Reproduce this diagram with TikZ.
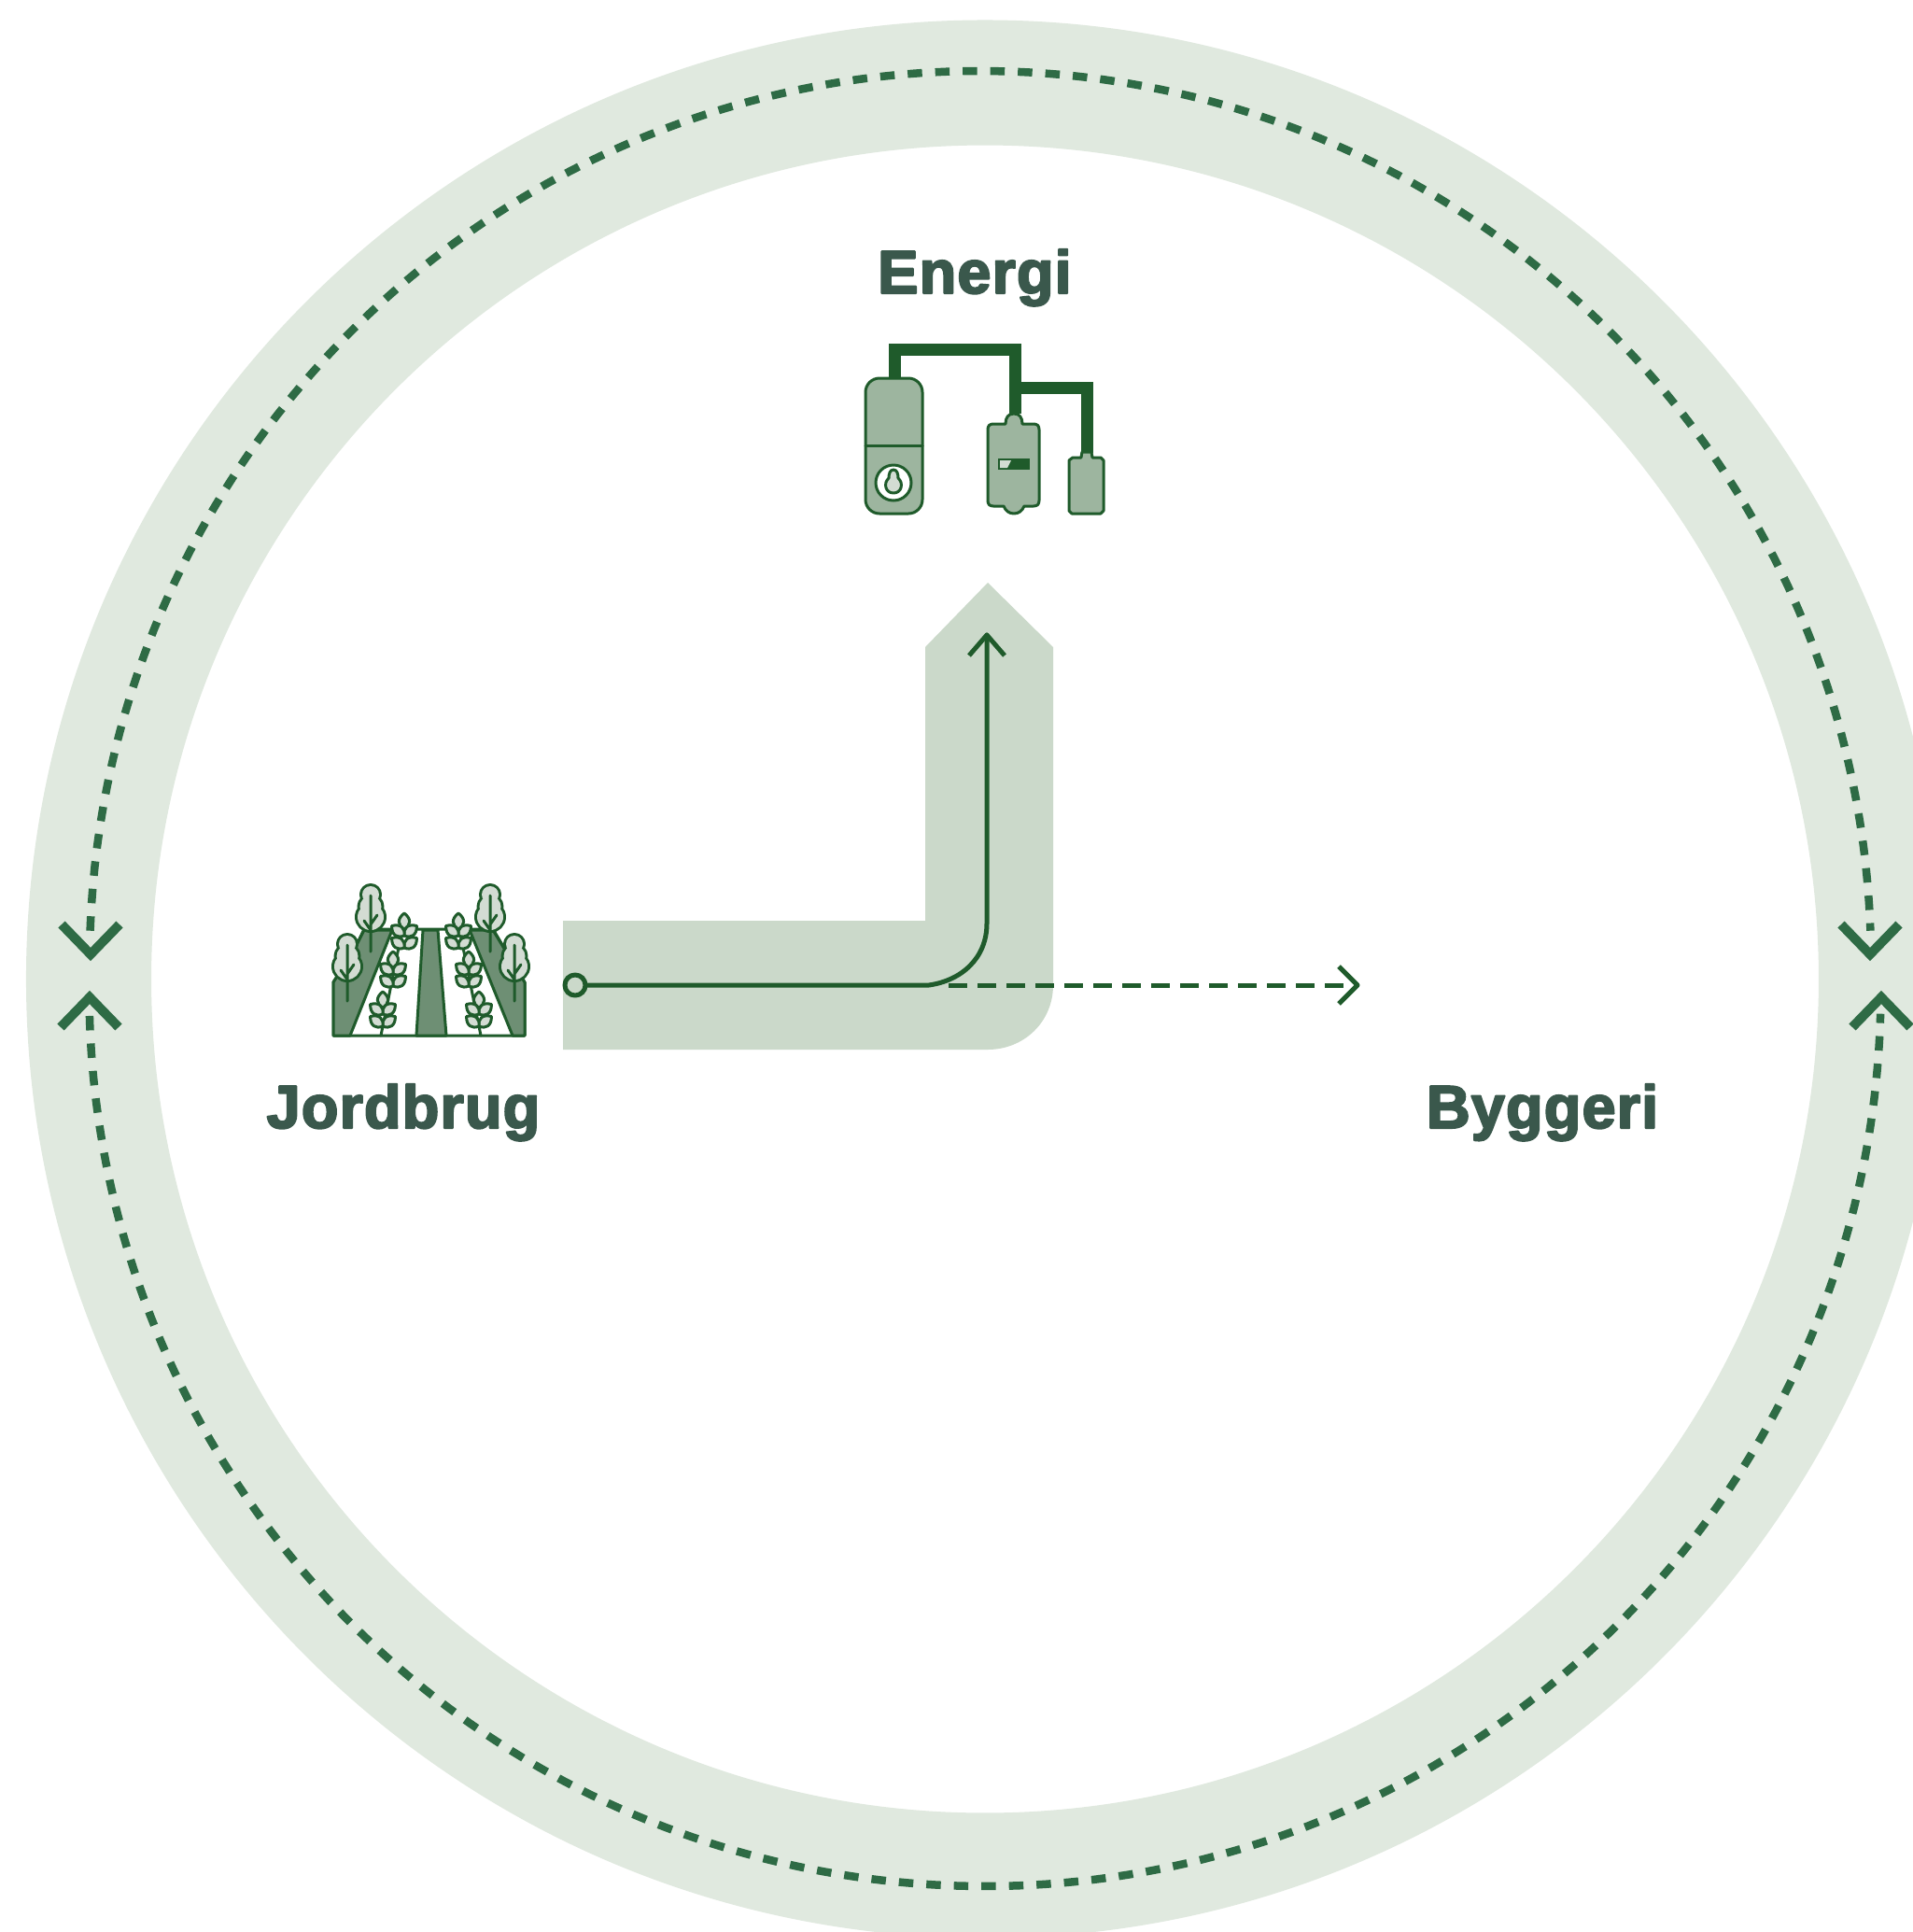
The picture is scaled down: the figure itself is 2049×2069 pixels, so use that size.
\documentclass[tikz,border=0pt]{standalone}
\usepackage{fontspec}
\setmainfont{Liberation Sans}[BoldFeatures={FakeBold=3.2,LetterSpace=1.6}]
\usetikzlibrary{calc}
\definecolor{ringgreen}{HTML}{E0E9DF}
\definecolor{bandgreen}{HTML}{CBD9CA}
\definecolor{darkgreen}{HTML}{1F5B2B}
\definecolor{dashgreen}{HTML}{2E6B45}
\definecolor{textgreen}{HTML}{3A584C}
\definecolor{iconfill}{HTML}{9DB59F}
\definecolor{fielddark}{HTML}{6E8F74}
\definecolor{leaflight}{HTML}{D3DCD3}
\tikzset{
  label/.style={font=\bfseries\fontsize{18.5}{20}\selectfont,text=textgreen,inner sep=0pt,anchor=base},
  ringdash/.style={color=dashgreen,line width=.085cm,dash pattern=on .155cm off .14cm,samples=300,line cap=butt},
  ringhead/.style={color=dashgreen,line width=.1cm,line cap=butt,line join=miter},
  flow/.style={color=darkgreen,line width=.05cm},
  icon/.style={draw=darkgreen,line width=.03cm,fill=iconfill},
  pipe/.style={draw=darkgreen,line width=.13cm,line cap=butt,line join=miter},
  treeicon/.pic={
    \foreach \ly/\lr in {9/9,22/11.5,33/14} \draw[darkgreen,line width=.06cm,fill=darkgreen] (0,\ly) circle (\lr);
    \foreach \ly/\lr in {9/9,22/11.5,33/14} \fill[leaflight] (0,\ly) circle (\lr);
    \draw[darkgreen,line width=.03cm] (0,10)--(0,70) (0,47)--(-7,37) (0,41)--(7,31);
  },
  leafshape/.pic={
    \draw[icon,fill=leaflight] (0,0) .. controls (7,-4) and (8,-11) .. (0,-17) .. controls (-8,-11) and (-7,-4) .. (0,0);
  },
  wheat/.pic={
    \pic at (0,0) {leafshape};
    \pic[rotate=-52] at (0,7) {leafshape};
    \pic[rotate=52] at (0,7) {leafshape};
    \pic[rotate=-52] at (0,20) {leafshape};
    \pic[rotate=52] at (0,20) {leafshape};
  },
}
\begin{document}
\begin{tikzpicture}[line cap=round,line join=round,>=stealth,x=.01cm,y=-.01cm]
\clip (0,0) rectangle (2049,2069);
\fill[white] (0,0) rectangle (2049,2069);
% ring
\draw[ringgreen,line width=1.34cm] (1055,1048.5) circle (960);
\draw[ringdash] plot[domain=178:2] ({1050+954*cos(\x)},{1030-954*sin(\x)});
\draw[ringdash] plot[domain=178.36:1.5] ({1055+959.5*cos(\x)},{1060.5+959.5*sin(\x)});
\coordinate (topleft) at (97,1022);
\coordinate (botleft) at (96,1068);
\coordinate (topright) at (2003,1022);
\coordinate (botright) at (2015,1068);
\draw[ringhead] ($(topleft)+(-31,-32)$)--(topleft)--($(topleft)+(31,-32)$);
\draw[ringhead] ($(botleft)+(-31,32)$)--(botleft)--($(botleft)+(31,32)$);
\draw[ringhead] ($(topright)+(-31,-32)$)--(topright)--($(topright)+(31,-32)$);
\draw[ringhead] ($(botright)+(-31,32)$)--(botright)--($(botright)+(31,32)$);
% band
\fill[bandgreen] (603,986)--(991,986)--(991,693)--(1058,624)--(1128,693)--(1128,1055) .. controls (1128,1094) and (1097,1124) .. (1058,1124)--(603,1124)--cycle;
\coordinate (start) at (616,1055);
\coordinate (bend) at (1057,680);
\coordinate (dashstart) at (1016,1055);
\coordinate (dashend) at (1454,1055);
\draw[flow,dash pattern=on .2cm off .11cm,line cap=butt] (dashstart)--(dashend);
\draw[flow,line cap=butt] (1434,1035)--(dashend)--(1434,1075);
\draw[flow] ($(start)+(11,0)$)--(995,1055) .. controls (1030,1050) and (1057,1026) .. (1057,989)--(bend);
\draw[flow,line cap=butt] (1038,702)--(bend)--(1076,702);
\draw[flow,fill=bandgreen] (start) circle (11);
% energy icon
\draw[pipe] (958,405)--(958,374)--(1087,374)--(1087,443);
\draw[pipe] (1087,415)--(1164,415)--(1164,485);
\draw[icon,rounded corners=.15cm] (927,405) rectangle (988,550);
\draw[icon] (927,477)--(988,477);
\draw[icon,fill=white] (957,517) circle (19);
\draw[icon,fill=leaflight] (957,503) .. controls (961,503) and (962,508) .. (962,512) .. controls (968,517) and (966,528) .. (957,528) .. controls (948,528) and (946,517) .. (952,512) .. controls (952,508) and (953,503) .. (957,503);
\draw[icon] (1064,454) -- (1077,454) .. controls (1077,447) and (1080,443) .. (1086,443) .. controls (1092,443) and (1095,447) .. (1095,454) -- (1107,454) .. controls (1111,454) and (1113,456) .. (1113,460) -- (1113,536) .. controls (1113,540) and (1111,542) .. (1107,542) -- (1097,542) .. controls (1095,547) and (1091,550) .. (1086,550) .. controls (1081,550) and (1077,547) .. (1075,542) -- (1064,542) .. controls (1060,542) and (1058,540) .. (1058,536) -- (1058,460) .. controls (1058,456) and (1060,454) .. (1064,454) -- cycle;
\fill[darkgreen] (1069,491) rectangle (1103,503);
\fill[leaflight] (1071,493)--(1083,493)--(1079,501)--(1071,501)--cycle;
\draw[icon] (1149,490)--(1158,490)--(1159,484)--(1169,484)--(1170,490)--(1179,490)--(1182,493)--(1182,547)--(1179,550)--(1148,550)--(1145,547)--(1145,493)--cycle;
% field icon
\draw[icon,fill=white] (357,1109)--(562,1109)--(562,1052)--(528,995)--(390,995)--(382,1012)--(357,1052)--cycle;
\draw[icon,fill=fielddark] (357,1052)--(382,1012)--(390,996)--(420,996)--(375,1109)--(357,1109)--cycle;
\draw[icon,fill=fielddark] (453,996)--(469,996)--(478,1109)--(446,1109)--cycle;
\draw[icon,fill=fielddark] (503,996)--(528,996)--(562,1052)--(562,1109)--(549,1109)--cycle;
\draw[darkgreen,line width=.03cm] (408,1109)--(432,990) (515,1109)--(491,990);
\pic at (397,949) {treeicon};
\pic at (372,1002) {treeicon};
\pic at (525,949) {treeicon};
\pic at (551,1002) {treeicon};
\pic at (433,995) {wheat};
\pic at (421,1036) {wheat};
\pic at (410,1079) {wheat};
\pic at (491,995) {wheat};
\pic at (502,1036) {wheat};
\pic at (513,1079) {wheat};
% labels
\node[label] (energi) at (1044,314) {Energi};
\node[label] (jordbrug) at (432,1208) {Jordbrug};
\node[label] (byggeri) at (1652,1208) {Byggeri};
\end{tikzpicture}
\end{document}
